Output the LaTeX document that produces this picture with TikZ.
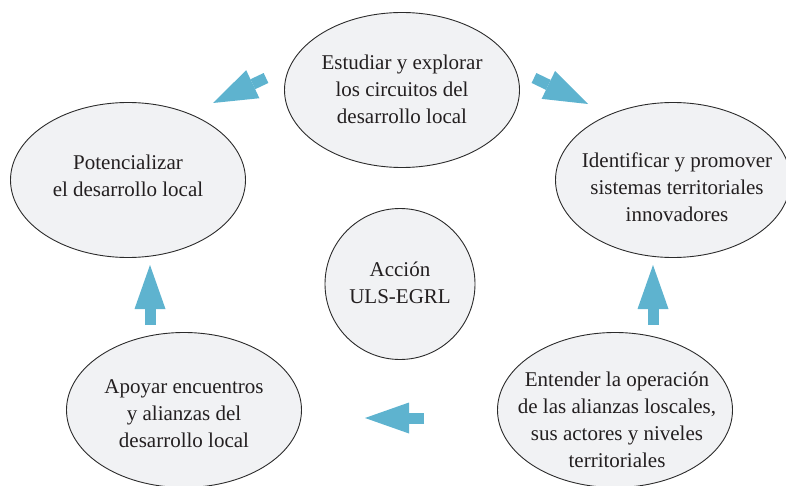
\documentclass[tikz,border=0pt]{standalone}
\usepackage{fontspec}
\setmainfont{Liberation Serif}
\usetikzlibrary{arrows.meta,shapes.geometric}

\definecolor{azulflecha}{HTML}{5EB3CF}
\definecolor{grisfondo}{HTML}{F1F2F4}
\definecolor{grisborde}{HTML}{2B2B2B}
\definecolor{gristexto}{HTML}{231F20}

\begin{document}
\begin{tikzpicture}[x=1pt,y=-1pt,
		burbuja/.style={ellipse, draw=grisborde, fill=grisfondo, line width=0.9pt,
			minimum width=235pt, minimum height=155pt, inner sep=0pt},
		circulo/.style={burbuja, minimum width=150pt, minimum height=151pt},
		leyenda/.style={text=gristexto, align=center, inner sep=0pt,
			font=\fontsize{21}{27}\selectfont},
		flechita/.style={draw=azulflecha, line width=11pt,
			-{Triangle[length=44pt,width=31pt,line width=0pt,fill=azulflecha]}}]
		\useasboundingbox (0,0) rectangle (786,486);
		
		% burbujas
		\node[burbuja] (estudiar) at (402,90) {};
		\node[burbuja] (potenciar) at (128,180) {};
		\node[burbuja] (identificar) at (673,180) {};
		\node[circulo] (accion) at (400,284) {};
		\node[burbuja] (apoyar) at (184,410) {};
		\node[burbuja] (entender) at (615,410) {};
		
		\node[leyenda] (testudiar) at ([yshift=1pt]estudiar)
			{Estudiar y explorar\\los circuitos del\\desarrollo local};
		\node[leyenda] (tpotenciar) at ([yshift=4pt]potenciar)
			{Potencializar\\el desarrollo local};
		\node[leyenda] (tidentificar) at ([xshift=4pt,yshift=-7pt]identificar)
			{Identificar y promover\\sistemas territoriales\\innovadores};
		\node[leyenda] (taccion) at ([yshift=1pt]accion)
			{Acción\\ULS-EGRL};
		\node[leyenda] (tapoyar) at ([yshift=-4pt]apoyar)
			{Apoyar encuentros\\y alianzas del\\desarrollo local};
		\node[leyenda] (tentender) at ([xshift=2pt,yshift=-10pt]entender)
			{Entender la operación\\de las alianzas loscales,\\sus actores y niveles\\territoriales};
		
		% flechas
		\coordinate (f1a) at (266,78);
		\coordinate (f1b) at (213,103);
		\coordinate (f2a) at (534,78);
		\coordinate (f2b) at (588,104);
		\coordinate (f3a) at (150,325);
		\coordinate (f3b) at (150,265);
		\coordinate (f4a) at (653,325);
		\coordinate (f4b) at (653,265);
		\coordinate (f5a) at (424,418);
		\coordinate (f5b) at (365,418);
		
		\draw[flechita] (f1a) -- (f1b);
		\draw[flechita] (f2a) -- (f2b);
		\draw[flechita] (f3a) -- (f3b);
		\draw[flechita] (f4a) -- (f4b);
		\draw[flechita] (f5a) -- (f5b);
		
	\end{tikzpicture}
\end{document}
